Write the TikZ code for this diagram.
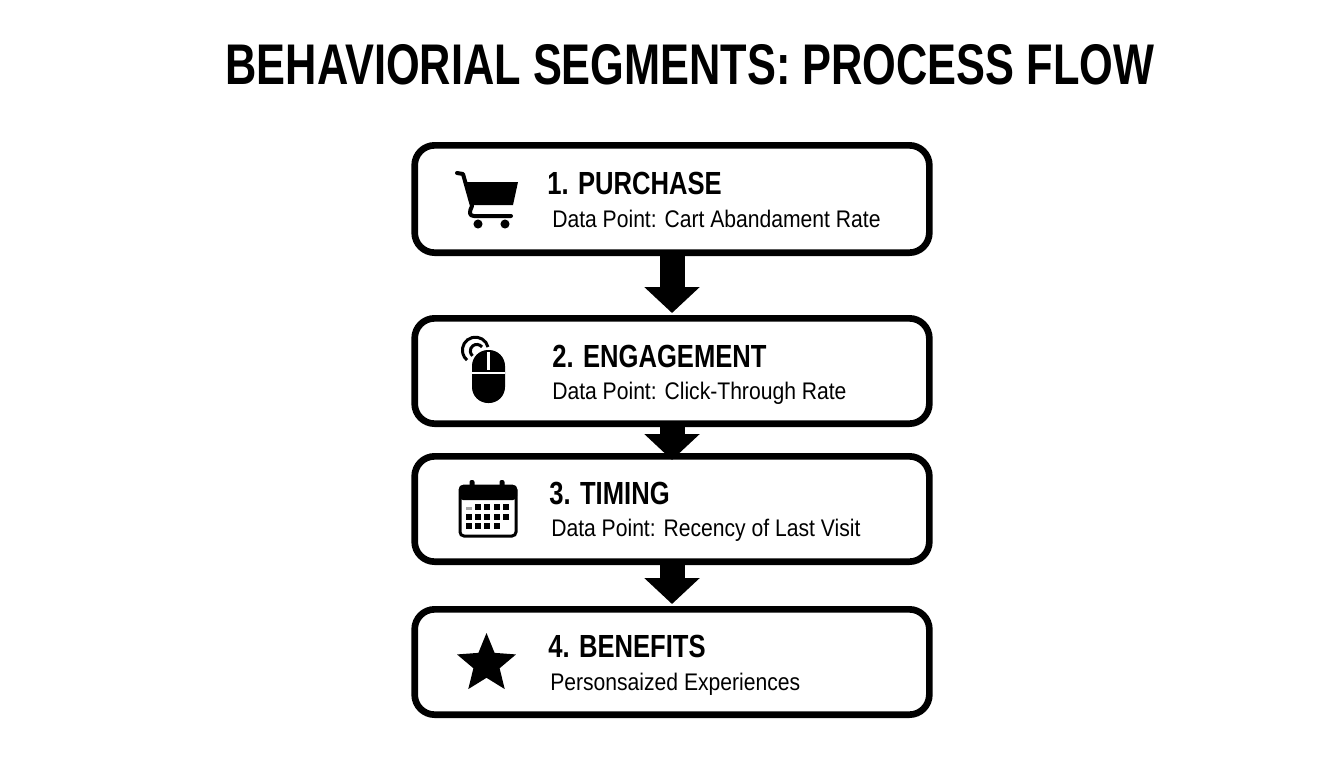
\documentclass[tikz,border=0pt]{standalone}
\usepackage{fontspec}
\setmainfont[FakeStretch=0.8]{Liberation Sans}
\newfontfamily\titlefont[FakeStretch=0.756]{Liberation Sans}
\newfontfamily\detailfont[FakeStretch=0.88]{Liberation Sans}
\usetikzlibrary{arrows.meta}
\usetikzlibrary{positioning}
\usetikzlibrary{shapes.geometric}
\tikzset{
  stage/.style={draw, line width=5pt, rounded corners=15pt, minimum width=386pt, minimum height=79pt},
  flow/.style={line width=18.75pt, -{Triangle[width=40.5pt,length=19.5pt]}},
  heading/.style={anchor=west, inner sep=0pt, font=\fontsize{24pt}{28pt}\selectfont\bfseries},
  detail/.style={anchor=west, inner sep=0pt, text height=13pt, text depth=0pt, font=\detailfont\fontsize{18pt}{20pt}\selectfont},
  rail/.style={line width=3pt, line cap=round, line join=round}
}
\begin{document}
\begin{tikzpicture}[x=.75pt,y=-.75pt]
  \useasboundingbox (0,0) rectangle (1344,768);
  \node [anchor=center, inner sep=0pt, font=\titlefont\fontsize{43pt}{48pt}\selectfont\bfseries] (title) at (690,65) {BEHAVIORIAL SEGMENTS: PROCESS FLOW};

  \node [stage, minimum height=80.5pt] (purchase) at (672,199) {};
  \node [stage, below=44.25pt of purchase] (engagement) {};
  \node [stage, below=19.5pt of engagement] (timing) {};
  \node [stage, below=30.75pt of timing] (benefits) {};

  \draw[flow, shorten >=1.5pt] (purchase.south) -- (engagement.north);
  \draw[flow, shorten >=-5.25pt] (engagement.south) -- (timing.north);
  \draw[flow, shorten >=1.5pt] (timing.south) -- (benefits.north);

  \node [heading] (h1) at (547,183) {1. PURCHASE};
  \node [detail] (d1) at (552,219) {Data Point: Cart Abandament Rate};
  \node [heading] (h2) at (552,356) {2. ENGAGEMENT};
  \node [detail] (d2) at (552,391) {Data Point: Click-Through Rate};
  \node [heading] (h3) at (549,493) {3. TIMING};
  \node [detail] (d3) at (551,528) {Data Point: Recency of Last Visit};
  \node [heading] (h4) at (548,646) {4. BENEFITS};
  \node [detail] (d4) at (550,682) {Personsaized Experiences};

  % cart
  \draw[rail] (457,173) -- (463,174) -- (472,206) .. controls (469,212) and (469,216) .. (474,216) -- (511,216);
  \fill[line join=round] (465,182) -- (518,182) -- (513,205) -- (471,205) -- cycle;
  \fill (478,224) circle (3.4pt) (505,224) circle (3.4pt);

  % mouse
  \fill[rounded corners=12pt] (472,350) rectangle (505,403);
  \fill[white] (487,352) rectangle (490,370);
  \fill[white] (472,372) rectangle (505,374);
  \draw[line width=2.25pt] (488,347) arc[start angle=-14, end angle=-230, radius=13];
  \draw[line width=2.25pt] (482,347) arc[start angle=-37, end angle=-229, radius=6.5];

  % calendar
  \draw[line width=2.25pt, rounded corners=3pt] (460,486) rectangle (516,536);
  \fill[rounded corners=3pt] (459,485) rectangle (517,500);
  \fill[rounded corners=1.5pt] (469.5,480) rectangle (474.5,490) (499.5,480) rectangle (504.5,490);
  \foreach \xc in {478,487,497,506} \fill (\xc-3,504) rectangle (\xc+3,510);
  \fill[gray!70] (466,506.5) rectangle (472,509.5);
  \foreach \xc in {469,478,487,497,506} \fill (\xc-3,514) rectangle (\xc+3,520);
  \foreach \xc in {469,478,487,497} \fill (\xc-3,523) rectangle (\xc+3,529);

  % star
  \node [star, star points=5, star point ratio=2.25, fill=black, minimum size=46.5pt, inner sep=0pt] (badge) at (486.5,664) {};
\end{tikzpicture}
\end{document}
